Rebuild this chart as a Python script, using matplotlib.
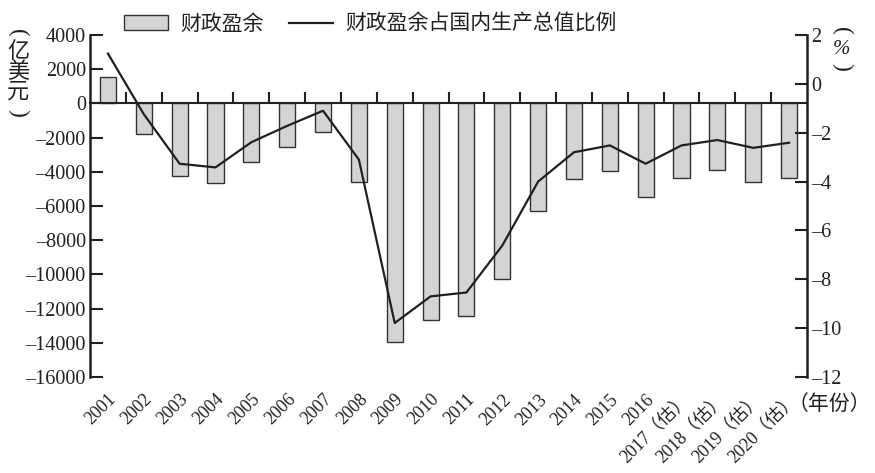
import matplotlib
matplotlib.use("Agg")
import matplotlib.pyplot as plt
from matplotlib.ticker import FuncFormatter

years = [
    "2001", "2002", "2003", "2004", "2005", "2006", "2007", "2008", "2009", "2010",
    "2011", "2012", "2013", "2014", "2015", "2016",
    "2017（估）", "2018（估）", "2019（估）", "2020（估）",
]
# 财政盈余（亿美元）
surplus = [
    1570, -1790, -4250, -4660, -3400, -2570, -1650, -4590, -13940, -12650,
    -12460, -10290, -6300, -4410, -3930, -5480, -4370, -3870, -4570, -4370,
]
# 财政盈余占国内生产总值比例（%）
ratio = [
    1.24, -1.24, -3.27, -3.42, -2.39, -1.72, -1.10, -3.10, -9.79, -8.70,
    -8.54, -6.62, -4.00, -2.80, -2.52, -3.27, -2.52, -2.30, -2.62, -2.41,
]

ink = "#231f20"
plt.rcParams["font.family"] = ["Liberation Serif", "Noto Sans CJK SC"]
plt.rcParams["text.color"] = ink
plt.rcParams["axes.edgecolor"] = ink
plt.rcParams["xtick.color"] = ink
plt.rcParams["ytick.color"] = ink


def dash_minus(v, pos):
    # the source uses a long dash for negative numbers
    s = "%d" % v
    return s.replace("-", "\u2013")


fig = plt.figure(figsize=(8.75, 4.73), dpi=100)
ax = fig.add_axes([90 / 875, 1 - 377 / 473, (807 - 90) / 875, 342 / 473])

x = list(range(len(years)))
bars = ax.bar(x, surplus, width=0.45, color="#d3d4d6", edgecolor="#333333",
              linewidth=1.0, zorder=2)
ax.set_xlim(-0.5, len(years) - 0.5)
ax.set_ylim(-16000, 4000)
ax.set_yticks(range(-16000, 4001, 2000))
ax.yaxis.set_major_formatter(FuncFormatter(dash_minus))
ax.spines["top"].set_visible(False)
ax.spines["right"].set_visible(False)
ax.spines["bottom"].set_position(("data", 0))
ax.spines["left"].set_linewidth(1.8)
ax.spines["bottom"].set_linewidth(1.5)
ax.set_xticks([i + 0.5 for i in range(len(years) - 1)])
ax.tick_params(axis="x", direction="in", length=8, width=1.5, labelbottom=False)
ax.tick_params(axis="y", direction="in", length=9, width=1.5, labelsize=14.5, pad=3)

sec = ax.secondary_xaxis("bottom")
sec.set_xticks(x, years, rotation=45, ha="right", rotation_mode="anchor", fontsize=13)
sec.tick_params(length=0, pad=10)
sec.spines["bottom"].set_visible(False)

ax2 = ax.twinx()
line, = ax2.plot(x, ratio, color=ink, linewidth=1.6)
ax2.set_ylim(-12, 2)
ax2.set_yticks(range(-12, 3, 2))
ax2.yaxis.set_major_formatter(FuncFormatter(dash_minus))
for s in ["top", "left", "bottom"]:
    ax2.spines[s].set_visible(False)
ax2.spines["right"].set_linewidth(1.8)
ax2.tick_params(axis="y", direction="in", length=9, width=1.5, labelsize=14.5, pad=3)

fig.legend([bars, line], ["财政盈余", "财政盈余占国内生产总值比例"],
           loc="upper left", bbox_to_anchor=(124 / 875, 1 - 15 / 473), ncol=2,
           frameon=False, fontsize=15, handlelength=2.1, handleheight=0.7,
           columnspacing=1.2, handletextpad=0.6, borderaxespad=0, borderpad=0)

# vertical unit labels, one character per line; brackets drawn as turned parens
left_label = ["(", "亿", "美", "元", ")"]
for i, ch in enumerate(left_label):
    rot = -90 if ch in "()" else 0
    fig.text(18 / 875, 1 - (33 + 20 * i) / 473, ch, ha="center", va="center",
             fontsize=17 if ch in "()" else 16, rotation=rot)
right_label = [("(", 31), ("%", 50), (")", 67)]
for ch, yy in right_label:
    rot = -90 if ch in "()" else 0
    fig.text(842 / 875, 1 - yy / 473, ch, ha="center", va="center",
             fontsize=15 if ch == "%" else 17, rotation=rot,
             style="italic" if ch == "%" else "normal")

fig.text(788 / 875, 1 - 405 / 473, "（年份）", ha="left", va="center", fontsize=15)

fig.savefig("out.png", dpi=100)
